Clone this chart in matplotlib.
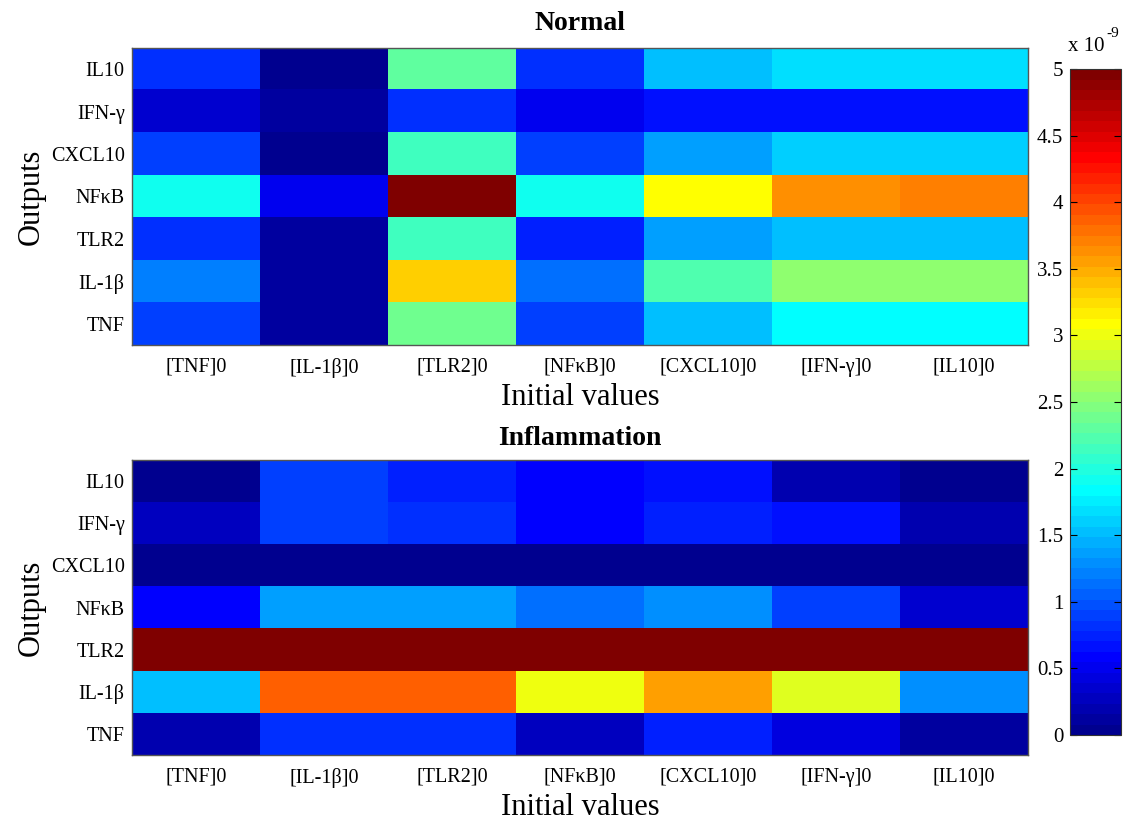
import numpy as np
import matplotlib
matplotlib.use("Agg")
import matplotlib.pyplot as plt
from matplotlib.colors import Normalize, ListedColormap

plt.rcParams['font.family'] = ['Liberation Serif', 'DejaVu Serif']

inputs = ["[TNF]0", "[IL-1β]0", "[TLR2]0", "[NFκB]0", "[CXCL10]0", "[IFN-γ]0", "[IL10]0"]
outputs = ["IL10", "IFN-γ", "CXCL10", "NFκB", "TLR2", "IL-1β", "TNF"]  # top to bottom

# values in units of 1e-9
normal_IL10   = [0.85, 0.05, 2.31, 0.85, 1.53, 1.70, 1.70]
normal_IFNg   = [0.35, 0.08, 0.85, 0.50, 0.70, 0.70, 0.70]
normal_CXCL10 = [0.93, 0.05, 2.17, 0.88, 1.38, 1.63, 1.63]
normal_NFkB   = [1.93, 0.48, 5.00, 1.95, 3.10, 3.62, 3.70]
normal_TLR2   = [0.85, 0.08, 2.12, 0.78, 1.40, 1.55, 1.55]
normal_IL1b   = [1.18, 0.08, 3.30, 1.12, 2.19, 2.50, 2.50]
normal_TNF    = [0.93, 0.08, 2.37, 0.90, 1.55, 1.80, 1.80]

infl_IL10   = [0.05, 0.90, 0.78, 0.60, 0.70, 0.16, 0.05]
infl_IFNg   = [0.25, 0.90, 0.85, 0.60, 0.75, 0.65, 0.20]
infl_CXCL10 = [0.05, 0.05, 0.05, 0.05, 0.05, 0.05, 0.05]
infl_NFkB   = [0.55, 1.33, 1.40, 1.16, 1.26, 0.90, 0.35]
infl_TLR2   = [5.00, 5.00, 5.00, 5.00, 5.00, 5.00, 5.00]
infl_IL1b   = [1.55, 3.90, 3.90, 3.03, 3.59, 2.90, 1.31]
infl_TNF    = [0.20, 0.85, 0.85, 0.30, 0.75, 0.45, 0.15]

normal = np.array([normal_IL10, normal_IFNg, normal_CXCL10, normal_NFkB,
                   normal_TLR2, normal_IL1b, normal_TNF])
infl = np.array([infl_IL10, infl_IFNg, infl_CXCL10, infl_NFkB,
                 infl_TLR2, infl_IL1b, infl_TNF])


def matlab_jet(n=64):
    m = int(np.ceil(n / 4))
    u = np.concatenate([np.arange(1, m + 1) / m, np.ones(m - 1), np.arange(m, 0, -1) / m])
    g = int(np.ceil(m / 2)) - (1 if n % 4 == 1 else 0) + np.arange(1, len(u) + 1)
    r = g + m
    b = g - m
    g = g[g <= n]
    r = r[r <= n]
    b = b[b >= 1]
    J = np.zeros((n, 3))
    J[r - 1, 0] = u[:len(r)]
    J[g - 1, 1] = u[:len(g)]
    J[b - 1, 2] = u[len(u) - len(b):]
    return ListedColormap(J)


cmap = matlab_jet(64)
norm = Normalize(vmin=0, vmax=5)

fig = plt.figure(figsize=(11.26, 8.23), dpi=100)
ax1 = fig.add_axes([0.117, 0.5808, 0.796, 0.361])
ax2 = fig.add_axes([0.117, 0.0826, 0.796, 0.3584])
cax = fig.add_axes([0.9505, 0.107, 0.045, 0.809])

for ax, data, title, tpad in [(ax1, normal, "Normal", 13), (ax2, infl, "Inflammation", 11)]:
    im = ax.imshow(data, cmap=cmap, norm=norm, aspect='auto', interpolation='nearest')
    ax.set_xticks(range(len(inputs)))
    ax.set_xticklabels(inputs, fontsize=14.5)
    ax.set_yticks(range(len(outputs)))
    ax.set_yticklabels(outputs, fontsize=14.5)
    ax.tick_params(axis='x', length=0, pad=9)
    ax.tick_params(axis='y', length=0, pad=5)
    ax.set_xlabel("Initial values", fontsize=22, labelpad=4)
    ax.set_ylabel("Outputs", fontsize=22, labelpad=4)
    ax.set_title(title, fontsize=20, fontweight='bold', pad=tpad)
    for s in ax.spines.values():
        s.set_color('#555555')
        s.set_linewidth(1.0)

cb = fig.colorbar(im, cax=cax)
cb.set_ticks([0, 0.5, 1, 1.5, 2, 2.5, 3, 3.5, 4, 4.5, 5])
cb.set_ticklabels(["0", "0.5", "1", "1.5", "2", "2.5", "3", "3.5", "4", "4.5", "5"])
cax.yaxis.set_ticks_position('left')
cax.tick_params(axis='y', direction='in', length=5, labelsize=15, pad=5,
                left=True, right=True, labelleft=True, labelright=False)
cb.outline.set_edgecolor('#333333')
fig.text(0.9485, 0.932, "x 10", fontsize=15, ha='left', va='bottom')
fig.text(0.9825, 0.951, "-9", fontsize=11, ha='left', va='bottom')

fig.savefig("out.png", dpi=100)
